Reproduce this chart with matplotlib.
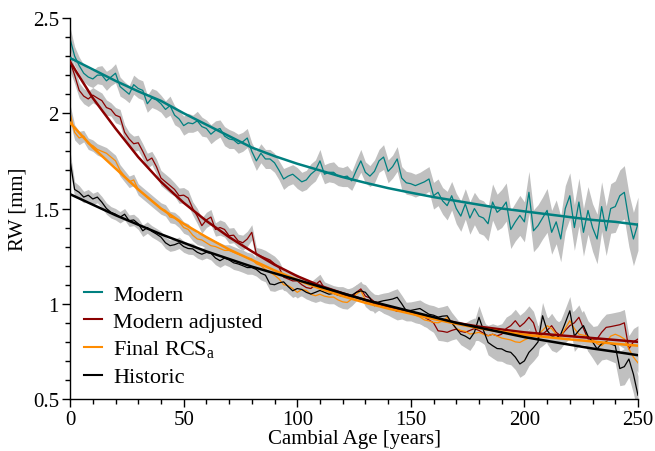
import numpy as np
import matplotlib
matplotlib.use("Agg")
import matplotlib.pyplot as plt

plt.rcParams['font.family'] = ['Liberation Serif', 'DejaVu Serif']
plt.rcParams['mathtext.fontset'] = 'custom'
plt.rcParams['mathtext.rm'] = 'Liberation Serif'

# ---------------- data ----------------
years = np.arange(0, 251, 2)          # cambial age of the raw series
fit_years = np.arange(0, 251, 10)     # cambial age of the fitted curves

modern = [
    2.39, 2.30, 2.25, 2.21, 2.19, 2.18, 2.20, 2.20, 2.17, 2.19,
    2.21, 2.14, 2.12, 2.10, 2.15, 2.13, 2.12, 2.05, 2.08, 2.07,
    2.05, 2.02, 2.04, 1.99, 1.97, 1.935, 1.95, 1.945, 1.96, 1.93,
    1.92, 1.89, 1.91, 1.92, 1.88, 1.865, 1.86, 1.84, 1.85, 1.87,
    1.80, 1.75, 1.79, 1.76, 1.76, 1.74, 1.70, 1.655, 1.67, 1.68,
    1.66, 1.64, 1.65, 1.68, 1.70, 1.75, 1.68, 1.69, 1.69, 1.67,
    1.665, 1.67, 1.645, 1.70, 1.75, 1.69, 1.67, 1.695, 1.75, 1.77,
    1.695, 1.72, 1.76, 1.66, 1.635, 1.63, 1.62, 1.63, 1.64, 1.655,
    1.567, 1.585, 1.54, 1.515, 1.567, 1.50, 1.46, 1.524, 1.45, 1.50,
    1.46, 1.45, 1.42, 1.534, 1.48, 1.50, 1.534, 1.39, 1.43, 1.464,
    1.43, 1.585, 1.383, 1.41, 1.45, 1.49, 1.375, 1.43, 1.34, 1.50,
    1.567, 1.40, 1.534, 1.375, 1.49, 1.40, 1.34, 1.51, 1.383, 1.50,
    1.51, 1.567, 1.585, 1.44, 1.34, 1.42]
modern_band = [
    0.06, 0.05, 0.045, 0.045, 0.045, 0.045,
    0.045, 0.05, 0.05, 0.045, 0.05, 0.05, 0.045, 0.045, 0.05, 0.05,
    0.05, 0.045, 0.05, 0.05, 0.045, 0.045, 0.05, 0.05, 0.045, 0.05,
    0.05, 0.045, 0.05, 0.05, 0.045, 0.05, 0.05, 0.045, 0.05, 0.05,
    0.045, 0.05, 0.05, 0.05, 0.045, 0.05, 0.05, 0.05, 0.05, 0.05,
    0.05, 0.055, 0.05, 0.05, 0.055, 0.05, 0.05, 0.055, 0.055, 0.06,
    0.05, 0.05, 0.055, 0.05, 0.05, 0.055, 0.05, 0.055, 0.06, 0.055,
    0.055, 0.06, 0.06, 0.065, 0.06, 0.06, 0.065, 0.06, 0.06, 0.06,
    0.06, 0.06, 0.065, 0.065, 0.07, 0.07, 0.07, 0.075, 0.075, 0.08,
    0.08, 0.08, 0.085, 0.085, 0.09, 0.09, 0.09, 0.095, 0.095, 0.10,
    0.10, 0.10, 0.10, 0.105, 0.105, 0.11, 0.11, 0.11, 0.11, 0.115,
    0.115, 0.115, 0.12, 0.12, 0.12, 0.12, 0.125, 0.125, 0.125, 0.125,
    0.13, 0.13, 0.13, 0.13, 0.135, 0.135, 0.14, 0.14, 0.14, 0.14]
modern_fit = [2.29, 2.23, 2.17, 2.115, 2.065, 2.00, 1.94, 1.88, 1.82, 1.775,
              1.735, 1.70, 1.665, 1.635, 1.607, 1.583, 1.56, 1.54, 1.52, 1.50,
              1.485, 1.47, 1.455, 1.44, 1.43, 1.415]

modern_adj = [
    2.27, 2.20, 2.12, 2.09, 2.075, 2.095, 2.08, 2.066, 2.03, 2.02,
    1.99, 1.98, 1.90, 1.865, 1.84, 1.845, 1.80, 1.75, 1.765, 1.72,
    1.66, 1.64, 1.62, 1.60, 1.567, 1.57, 1.555, 1.50, 1.46, 1.41,
    1.44, 1.455, 1.39, 1.40, 1.39, 1.357, 1.36, 1.33, 1.32, 1.34,
    1.375, 1.26, 1.25, 1.24, 1.23, 1.21, 1.19, 1.14, 1.13, 1.12,
    1.12, 1.10, 1.085, 1.08, 1.10, 1.12, 1.08, 1.07, 1.06, 1.05,
    1.05, 1.04, 1.035, 1.06, 1.078, 1.04, 1.03, 1.01, 1.007, 0.99,
    0.98, 0.972, 0.96, 0.965, 0.955, 0.955, 0.945, 0.94, 0.93, 0.915,
    0.90, 0.858, 0.855, 0.85, 0.86, 0.867, 0.855, 0.85, 0.86, 0.87,
    0.86, 0.845, 0.832, 0.84, 0.832, 0.84, 0.87, 0.885, 0.911, 0.88,
    0.90, 0.929, 0.90, 0.823, 0.84, 0.86, 0.885, 0.85, 0.832, 0.86,
    0.885, 0.90, 0.929, 0.87, 0.815, 0.815, 0.815, 0.85, 0.876, 0.88,
    0.885, 0.89, 0.90, 0.763, 0.80, 0.815]
modern_adj_band = [
    0.05, 0.045, 0.04, 0.04, 0.04, 0.04,
    0.04, 0.04, 0.04, 0.035, 0.04, 0.04, 0.04, 0.035, 0.04, 0.04,
    0.04, 0.04, 0.035, 0.04, 0.04, 0.04, 0.04, 0.035, 0.04, 0.04,
    0.04, 0.035, 0.04, 0.04, 0.04, 0.04, 0.035, 0.04, 0.04, 0.04,
    0.04, 0.035, 0.04, 0.04, 0.04, 0.035, 0.04, 0.04, 0.035, 0.04,
    0.035, 0.035, 0.035, 0.035, 0.035, 0.035, 0.035, 0.035, 0.035, 0.035,
    0.035, 0.035, 0.035, 0.04, 0.04, 0.04, 0.04, 0.04, 0.04, 0.04,
    0.04, 0.04, 0.04, 0.04, 0.04, 0.045, 0.045, 0.045, 0.045, 0.045,
    0.045, 0.045, 0.045, 0.05, 0.05, 0.05, 0.05, 0.05, 0.05, 0.05,
    0.05, 0.05, 0.055, 0.055, 0.055, 0.055, 0.055, 0.055, 0.055, 0.055,
    0.06, 0.06, 0.06, 0.06, 0.06, 0.06, 0.06, 0.06, 0.06, 0.06,
    0.065, 0.065, 0.065, 0.065, 0.065, 0.065, 0.065, 0.065, 0.065, 0.065,
    0.07, 0.07, 0.07, 0.07, 0.07, 0.07, 0.07, 0.07, 0.07, 0.07]
modern_adj_fit = [2.27, 2.08, 1.92, 1.77, 1.64, 1.53, 1.435, 1.35, 1.275, 1.205,
                  1.145, 1.095, 1.055, 1.02, 0.985, 0.955, 0.925, 0.90, 0.88, 0.865,
                  0.85, 0.84, 0.83, 0.82, 0.81, 0.80]

final_rcs = [
    2.00, 1.90, 1.87, 1.88, 1.84, 1.83, 1.81, 1.80, 1.79, 1.77,
    1.75, 1.70, 1.67, 1.64, 1.65, 1.60, 1.58, 1.56, 1.54, 1.52,
    1.50, 1.49, 1.455, 1.45, 1.43, 1.40, 1.39, 1.36, 1.34, 1.335,
    1.32, 1.305, 1.30, 1.29, 1.28, 1.28, 1.27, 1.26, 1.252, 1.24,
    1.235, 1.21, 1.20, 1.18, 1.165, 1.15, 1.13, 1.10, 1.095, 1.08,
    1.06, 1.075, 1.07, 1.05, 1.042, 1.05, 1.04, 1.035, 1.035, 1.02,
    1.01, 1.007, 1.025, 1.05, 1.068, 1.02, 1.00, 0.995, 1.00, 0.99,
    0.98, 0.975, 0.965, 0.96, 0.955, 0.95, 0.94, 0.93, 0.915, 0.91,
    0.902, 0.90, 0.91, 0.929, 0.90, 0.87, 0.86, 0.855, 0.841, 0.845,
    0.85, 0.84, 0.832, 0.84, 0.83, 0.82, 0.815, 0.81, 0.80, 0.797,
    0.81, 0.82, 0.83, 0.84, 0.86, 0.885, 0.87, 0.84, 0.83, 0.87,
    0.911, 0.87, 0.84, 0.835, 0.83, 0.81, 0.79, 0.78, 0.80, 0.83,
    0.84, 0.83, 0.815, 0.763, 0.72, 0.69]
final_rcs_band = [
    0.045, 0.04, 0.035, 0.03, 0.03, 0.03,
    0.03, 0.03, 0.03, 0.03, 0.03, 0.03, 0.03, 0.03, 0.03, 0.03,
    0.03, 0.03, 0.03, 0.03, 0.03, 0.03, 0.03, 0.03, 0.03, 0.03,
    0.03, 0.03, 0.03, 0.03, 0.03, 0.03, 0.03, 0.03, 0.03, 0.03,
    0.03, 0.03, 0.03, 0.03, 0.03, 0.03, 0.03, 0.03, 0.03, 0.03,
    0.03, 0.03, 0.03, 0.03, 0.03, 0.03, 0.035, 0.035, 0.035, 0.035,
    0.035, 0.035, 0.035, 0.035, 0.035, 0.035, 0.035, 0.035, 0.035, 0.035,
    0.035, 0.035, 0.035, 0.035, 0.035, 0.035, 0.035, 0.035, 0.035, 0.035,
    0.035, 0.035, 0.035, 0.035, 0.035, 0.04, 0.04, 0.04, 0.04, 0.04,
    0.04, 0.04, 0.04, 0.04, 0.04, 0.04, 0.04, 0.04, 0.04, 0.04,
    0.045, 0.045, 0.045, 0.045, 0.045, 0.045, 0.045, 0.045, 0.045, 0.045,
    0.045, 0.045, 0.05, 0.05, 0.05, 0.05, 0.05, 0.05, 0.05, 0.05,
    0.05, 0.05, 0.05, 0.05, 0.05, 0.05, 0.05, 0.05, 0.05, 0.05]
final_rcs_fit = [1.95, 1.82, 1.71, 1.60, 1.50, 1.42, 1.35, 1.285, 1.23, 1.175,
                 1.125, 1.08, 1.04, 1.005, 0.975, 0.948, 0.92, 0.895, 0.872, 0.853,
                 0.838, 0.825, 0.813, 0.802, 0.79, 0.78]

historic = [
    1.75, 1.60, 1.585, 1.56, 1.57, 1.55, 1.56, 1.533, 1.50, 1.48,
    1.47, 1.454, 1.47, 1.436, 1.44, 1.42, 1.383, 1.40, 1.38, 1.366,
    1.35, 1.32, 1.305, 1.31, 1.32, 1.30, 1.29, 1.288, 1.27, 1.26,
    1.27, 1.265, 1.24, 1.226, 1.24, 1.23, 1.215, 1.209, 1.20, 1.19,
    1.19, 1.18, 1.16, 1.15, 1.104, 1.10, 1.11, 1.115, 1.09, 1.068,
    1.08, 1.075, 1.06, 1.051, 1.06, 1.07, 1.06, 1.05, 1.055, 1.045,
    1.04, 1.042, 1.045, 1.06, 1.068, 1.06, 1.03, 0.99, 1.01, 1.016,
    1.02, 1.025, 1.034, 1.00, 0.963, 0.965, 0.97, 0.975, 0.96, 0.945,
    0.94, 0.93, 0.935, 0.937, 0.90, 0.87, 0.84, 0.83, 0.815, 0.85,
    0.929, 0.86, 0.797, 0.78, 0.765, 0.763, 0.75, 0.745, 0.72, 0.684,
    0.70, 0.745, 0.77, 0.80, 0.937, 0.86, 0.83, 0.82, 0.84, 0.90,
    0.963, 0.83, 0.86, 0.885, 0.83, 0.80, 0.763, 0.79, 0.80, 0.79,
    0.78, 0.66, 0.67, 0.71, 0.63, 0.52]
historic_band = [
    0.05, 0.04, 0.035, 0.03, 0.03, 0.03,
    0.03, 0.03, 0.03, 0.03, 0.03, 0.03, 0.03, 0.03, 0.03, 0.03,
    0.03, 0.03, 0.03, 0.03, 0.03, 0.03, 0.03, 0.03, 0.03, 0.03,
    0.03, 0.03, 0.03, 0.03, 0.03, 0.035, 0.035, 0.035, 0.035, 0.035,
    0.035, 0.035, 0.035, 0.035, 0.035, 0.035, 0.035, 0.035, 0.035, 0.035,
    0.035, 0.035, 0.035, 0.035, 0.035, 0.035, 0.035, 0.035, 0.035, 0.035,
    0.035, 0.035, 0.035, 0.035, 0.035, 0.035, 0.04, 0.04, 0.04, 0.04,
    0.04, 0.04, 0.04, 0.04, 0.04, 0.045, 0.045, 0.045, 0.045, 0.045,
    0.045, 0.045, 0.045, 0.05, 0.05, 0.05, 0.05, 0.055, 0.055, 0.055,
    0.055, 0.06, 0.06, 0.06, 0.06, 0.06, 0.065, 0.065, 0.065, 0.065,
    0.065, 0.065, 0.065, 0.07, 0.07, 0.07, 0.07, 0.07, 0.07, 0.07,
    0.075, 0.075, 0.075, 0.075, 0.075, 0.08, 0.08, 0.08, 0.08, 0.085,
    0.085, 0.085, 0.09, 0.09, 0.09, 0.09, 0.095, 0.095, 0.10, 0.10]
historic_fit = [1.575, 1.52, 1.465, 1.415, 1.365, 1.32, 1.275, 1.235, 1.195, 1.16,
                1.125, 1.09, 1.055, 1.02, 0.99, 0.96, 0.93, 0.90, 0.875, 0.85,
                0.825, 0.805, 0.785, 0.765, 0.748, 0.73]

series_labels = ['Modern', 'Modern adjusted', 'Final RCS$_{\\mathrm{a}}$', 'Historic']
x_ticks = [0, 50, 100, 150, 200, 250]
y_ticks = [0.5, 1, 1.5, 2, 2.5]

# ---------------- styling ----------------
colors = ['#008080', '#8b0000', '#ff8c00', '#000000']
band_color = '#c0c0c0'

fig = plt.figure(figsize=(6.55, 4.52), dpi=100)
ax = fig.add_axes([0.107, 0.115, 0.867, 0.843])

raws = [modern, modern_adj, final_rcs, historic]
bands = [modern_band, modern_adj_band, final_rcs_band, historic_band]
fits = [modern_fit, modern_adj_fit, final_rcs_fit, historic_fit]

for raw, band in zip(raws, bands):
    r = np.asarray(raw)
    b = np.asarray(band)
    ax.fill_between(years, r - b, r + b, color=band_color, lw=0, zorder=1)

for raw, c in zip(raws, colors):
    ax.plot(years, raw, color=c, lw=0.9, zorder=2)

handles = []
for fit, c, lab in zip(fits, colors, series_labels):
    h, = ax.plot(fit_years, fit, color=c, lw=1.8, zorder=3, label=lab)
    handles.append(h)

ax.set_xlim(0, 250)
ax.set_ylim(0.5, 2.5)
ax.set_xticks(x_ticks)
ax.set_xticklabels([str(t) for t in x_ticks])
ax.set_yticks(y_ticks)
ax.set_yticklabels(['0.5', '1', '1.5', '2', '2.5'])
ax.set_xticks(np.arange(0, 251, 10), minor=True)
ax.set_yticks(np.arange(0.5, 2.51, 0.1), minor=True)
ax.tick_params(which='major', direction='out', length=6, width=1, labelsize=15, pad=2)
ax.tick_params(which='minor', direction='out', length=3.5, width=1)
for s in ['top', 'right']:
    ax.spines[s].set_visible(False)
for s in ['left', 'bottom']:
    ax.spines[s].set_linewidth(1)

ax.set_xlabel('Cambial Age [years]', fontsize=15, labelpad=0)
ax.set_ylabel('RW [mm]', fontsize=15, labelpad=4)

leg = ax.legend(handles=handles, loc='lower left', bbox_to_anchor=(0.005, 0.0),
                frameon=False, fontsize=16, handlelength=0.8, handletextpad=0.5,
                labelspacing=0.3, borderaxespad=0.12)
for lh in leg.get_lines():
    lh.set_linewidth(1.5)

fig.savefig('out.png', dpi=100)
